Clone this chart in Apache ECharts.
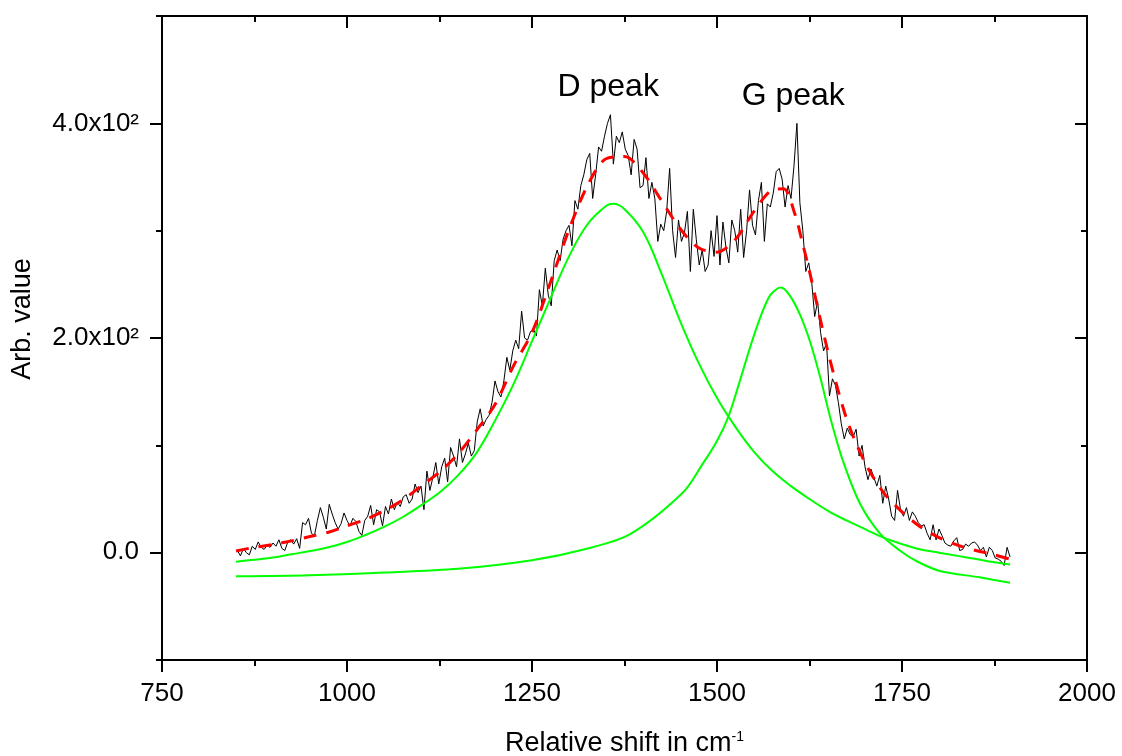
<!DOCTYPE html>
<html><head><meta charset="utf-8">
<script src="https://cdn.jsdelivr.net/npm/echarts@6/dist/echarts.min.js"></script>
<style>html,body{margin:0;padding:0;background:#fff}#c{width:1122px;height:756px}</style>
</head><body><div id="c"></div>
<script>
// Measured spectrum (Raman shift, cm^-1)
const shift = [
852,856,860,864,868,872,876,880,884,888,
892,896,900,904,908,912,916,920,924,928,
932,936,940,944,948,952,956,960,964,968,
972,976,980,984,988,992,996,1000,1004,1008,
1012,1016,1020,1024,1028,1032,1036,1040,1044,1048,
1052,1056,1060,1064,1068,1072,1076,1080,1084,1088,
1092,1096,1100,1104,1108,1112,1116,1120,1124,1128,
1132,1136,1140,1144,1148,1152,1156,1160,1164,1168,
1172,1176,1180,1184,1188,1192,1196,1200,1204,1208,
1212,1216,1220,1224,1228,1232,1236,1240,1244,1248,
1252,1256,1260,1264,1268,1272,1276,1280,1284,1288,
1292,1296,1300,1304,1308,1312,1316,1320,1324,1328,
1332,1336,1340,1344,1348,1352,1356,1360,1364,1368,
1372,1376,1380,1384,1388,1392,1396,1400,1404,1408,
1412,1416,1420,1424,1428,1432,1436,1440,1444,1448,
1452,1456,1460,1464,1468,1472,1476,1480,1484,1488,
1492,1496,1500,1504,1508,1512,1516,1520,1524,1528,
1532,1536,1540,1544,1548,1552,1556,1560,1564,1568,
1572,1576,1580,1584,1588,1592,1596,1600,1604,1608,
1612,1616,1620,1624,1628,1632,1636,1640,1644,1648,
1652,1656,1660,1664,1668,1672,1676,1680,1684,1688,
1692,1696,1700,1704,1708,1712,1716,1720,1724,1728,
1732,1736,1740,1744,1748,1752,1756,1760,1764,1768,
1772,1776,1780,1784,1788,1792,1796,1800,1804,1808,
1812,1816,1820,1824,1828,1832,1836,1840,1844,1848,
1852,1856,1860,1864,1868,1872,1876,1880,1884,1888,
1892,1896];
const intensity = [
2,-3,4,0,-2,6,3,10,5,3,
7,5,9,6,12,4,2,10,12,8,
13,4,28,26,32,18,16,30,42,33,
22,45,36,28,22,27,37,30,25,32,
29,20,16,30,34,44,26,40,38,25,
43,36,50,40,47,43,52,54,46,50,
64,56,62,40,76,58,70,84,64,80,
88,66,98,90,80,106,84,92,102,90,
95,122,134,118,124,128,140,160,150,145,
160,182,170,188,198,190,225,200,198,206,
208,202,245,230,265,240,230,272,282,272,
292,300,305,286,328,320,342,352,366,372,
330,352,378,374,388,400,408,362,388,382,
392,376,370,352,385,376,340,342,368,330,
345,330,290,306,300,318,358,300,275,310,
290,298,318,262,320,292,268,282,262,268,
300,276,314,268,308,285,270,310,300,280,
320,275,300,338,305,296,328,345,290,325,
322,335,355,358,348,322,342,330,360,400,
326,300,262,270,252,220,234,205,188,195,
146,162,156,140,120,106,116,110,108,115,
90,100,80,68,78,70,62,72,46,62,
50,34,30,58,40,34,42,30,38,34,
28,25,26,18,12,26,12,22,16,9,
7,6,11,14,2,3,8,6,9,10,
7,2,5,-4,5,2,-5,-6,-8,-12,
5,-4];

// Cumulative fit (red dashed)
const fitX = [850,875,900,925,950,975,1000,1025,1050,1075,1100,1125,1150,1175,1200,1225,1250,1275,1300,1325,1350,1375,1400,1425,1450,1475,1500,1525,1550,1575,1590,1605,1615,1625,1650,1675,1700,1725,1750,1775,1800,1825,1850,1875,1896];
const fitY = [1.5,5,7.5,11,15,19,25,31,39,49,62,75,92,114,138,174,205,252,301,342,367,369,354,328,302,284,280,292,318,338,339,316,290,262,187,125,84,56,38,24,14,7,2,-2,-6];

// D peak component (green)
const dPeakX = [850,875,900,925,950,975,1000,1025,1050,1075,1100,1125,1150,1175,1200,1225,1250,1275,1300,1325,1350,1360,1375,1400,1425,1450,1475,1500,1525,1550,1575,1600,1625,1650,1675,1700,1725,1750,1775,1800,1825,1850,1875,1896];
const dPeakY = [-8.5,-6.5,-4.5,-1.5,1.5,5,10,16.5,24,33,44,56,72,93,123,157,197,237,276,306,323,325,320,299,260,216,177,144,117,94,76,62,50,39,30,22,14,8,3,0,-3,-6,-9,-11];

// G peak component (green)
const gPeakX = [850,950,1050,1150,1250,1320,1382,1454,1480,1500,1515,1530,1545,1560,1572,1586,1598,1612,1626,1640,1653,1670,1693,1720,1747,1770,1801,1855,1896];
const gPeakY = [-22,-21,-18.5,-15,-7,3,17,56,82,104,126,158,192,222,240,247,240,222,196,162,126,86,46,18,2,-8,-17,-23,-28];

const peakNames = ['D peak', 'G peak'];
const peakLabelX = [1353, 1603];
const peakLabelY = [434, 425];

const yTickText = {0: '0.0', 200: '2.0x10²', 400: '4.0x10²'};

const pair = (xs, ys) => xs.map((x, i) => [x, ys[i]]);
const FONT = 'Liberation Sans, Arial, sans-serif';

const chart = echarts.init(document.getElementById('c'), null, {renderer: 'canvas'});
const lineStyleAxis = {color: '#000', width: 2};
chart.setOption({
  animation: false,
  backgroundColor: '#fff',
  textStyle: {fontFamily: FONT},
  grid: [
    {left: 162, right: 35, top: 16, bottom: 96, containLabel: false, outerBoundsMode: 'none'},
    {left: 162, right: 35, top: 123.7, bottom: 203.7, containLabel: false, outerBoundsMode: 'none'}
  ],
  xAxis: [
    {gridIndex: 0, type: 'value', min: 750, max: 2000, interval: 250, position: 'bottom',
     axisLine: {onZero: false, lineStyle: lineStyleAxis},
     axisTick: {length: 12, lineStyle: {color: '#000', width: 2}},
     minorTick: {show: true, splitNumber: 2, length: 6, lineStyle: {color: '#000', width: 2}},
     splitLine: {show: false}, minorSplitLine: {show: false},
     axisLabel: {fontSize: 26, color: '#000', margin: 21, fontFamily: FONT, formatter: v => String(v)},
     name: '{n|Relative shift in cm}{s|-1}', nameLocation: 'middle', nameGap: 70,
     nameTextStyle: {rich: {n: {fontSize: 27, color: '#000', fontFamily: FONT}, s: {fontSize: 14, color: '#000', padding: [0, 0, 14, 0], fontFamily: FONT}}}},
    {gridIndex: 0, type: 'value', min: 750, max: 2000, interval: 250, position: 'top',
     axisLine: {onZero: false, lineStyle: lineStyleAxis},
     axisTick: {inside: true, length: 12, lineStyle: {color: '#000', width: 2}},
     minorTick: {show: true, splitNumber: 2, length: 6, lineStyle: {color: '#000', width: 2}},
     splitLine: {show: false}, axisLabel: {show: false}},
    {gridIndex: 1, type: 'value', min: 750, max: 2000, show: false}
  ],
  yAxis: [
    {gridIndex: 0, type: 'value', min: -100, max: 500, interval: 100, position: 'left',
     axisLine: {show: true, onZero: false, lineStyle: lineStyleAxis},
     axisTick: {show: true, length: 6, lineStyle: {color: '#000', width: 2}},
     splitLine: {show: false}, axisLabel: {show: false},
     name: 'Arb. value', nameLocation: 'middle', nameGap: 126, nameRotate: 90,
     nameTextStyle: {fontSize: 27, color: '#000', fontFamily: FONT, padding: [0, 0, 0, 38]}},
    {gridIndex: 0, type: 'value', min: -100, max: 500, interval: 100, position: 'right',
     axisLine: {show: true, onZero: false, lineStyle: lineStyleAxis},
     axisTick: {show: true, inside: true, length: 6, lineStyle: {color: '#000', width: 2}},
     splitLine: {show: false}, axisLabel: {show: false}},
    {gridIndex: 1, type: 'value', min: 0, max: 400, interval: 200, position: 'left',
     axisLine: {show: false, onZero: false},
     axisTick: {show: true, length: 12, lineStyle: {color: '#000', width: 2}},
     splitLine: {show: false},
     axisLabel: {margin: 23, color: '#000', fontSize: 26, fontFamily: FONT,
       formatter: v => yTickText[v] || ''}},
    {gridIndex: 1, type: 'value', min: 0, max: 400, interval: 200, position: 'right',
     axisLine: {show: false, onZero: false},
     axisTick: {show: true, inside: true, length: 12, lineStyle: {color: '#000', width: 2}},
     splitLine: {show: false}, axisLabel: {show: false}}
  ],
  series: [
    {name: 'Data', type: 'line', xAxisIndex: 0, yAxisIndex: 0, data: pair(shift, intensity),
     showSymbol: false, symbol: 'none', lineStyle: {color: '#000', width: 1}, z: 2},
    {name: 'D', type: 'line', xAxisIndex: 0, yAxisIndex: 0, data: pair(dPeakX, dPeakY),
     smooth: 0.4, symbol: 'none', lineStyle: {color: '#00ff00', width: 2}, z: 3},
    {name: 'G', type: 'line', xAxisIndex: 0, yAxisIndex: 0, data: pair(gPeakX, gPeakY),
     smooth: 0.3, symbol: 'none', lineStyle: {color: '#00ff00', width: 2}, z: 3},
    {name: 'Fit', type: 'line', xAxisIndex: 0, yAxisIndex: 0, data: pair(fitX, fitY),
     smooth: 0.3, symbol: 'none', lineStyle: {color: '#ff0000', width: 3, type: [13, 10]}, z: 4,
     markPoint: {symbol: 'circle', symbolSize: 0,
       label: {show: true, position: 'inside', fontSize: 32, color: '#000', fontFamily: FONT, formatter: p => p.name},
       data: peakNames.map((n, i) => ({name: n, coord: [peakLabelX[i], peakLabelY[i]]}))}}
  ]
});
</script></body></html>
